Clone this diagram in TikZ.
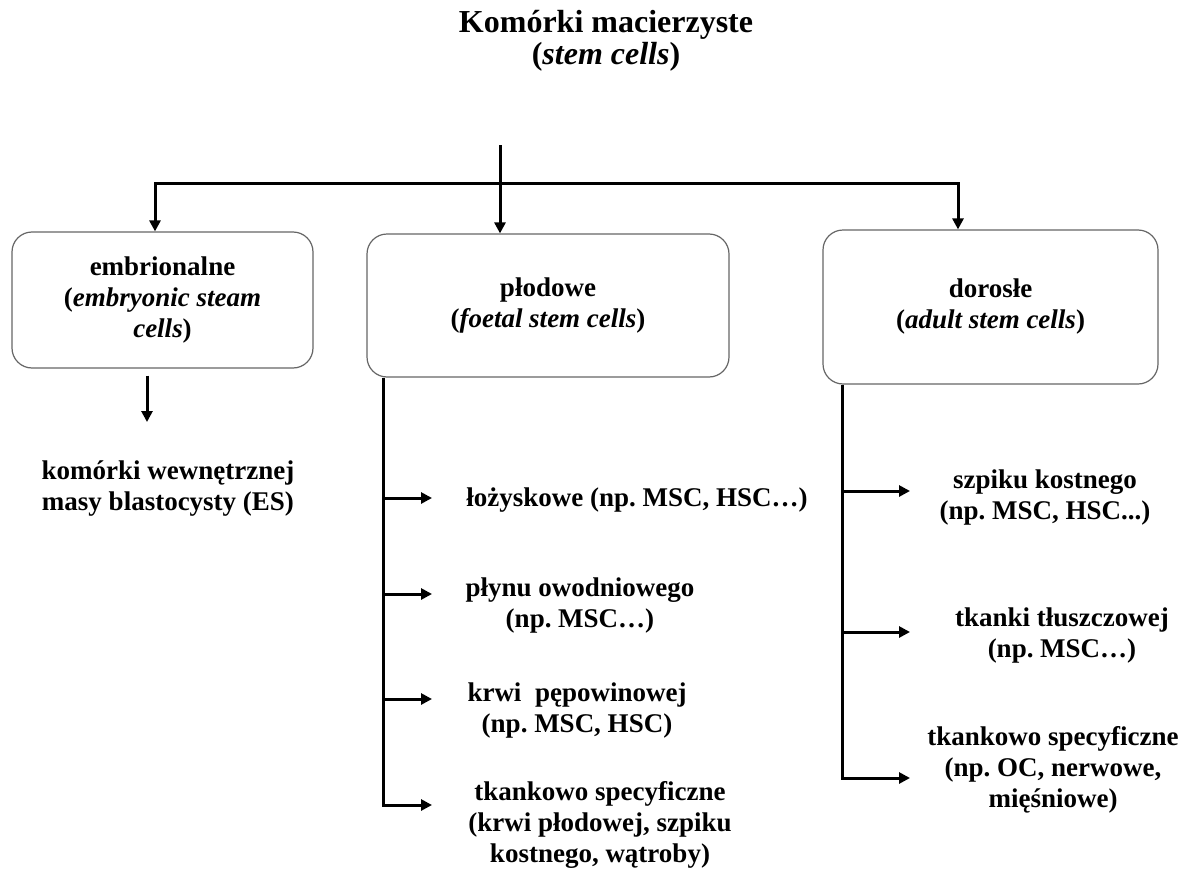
\documentclass[tikz,border=0pt]{standalone}
\usepackage{fontspec}
\setmainfont{Liberation Serif}
\usetikzlibrary{arrows.meta}

\newcommand{\titlefont}{\fontsize{32}{32}\selectfont\bfseries}
\newcommand{\cellfont}{\fontsize{27}{31}\selectfont\bfseries}

\tikzset{
  >={Triangle[length=11pt,width=11pt]},
  box/.style={draw=black!60, line width=1.2pt, rounded corners=20pt,
    align=center, inner sep=0pt, font=\cellfont},
  item/.style={align=center, inner sep=0pt, font=\cellfont},
  link/.style={line width=3pt, black},
  arr/.style={link, ->}
}

\begin{document}
\frenchspacing
\begin{tikzpicture}[x=1pt, y=-1pt]
  % Page
  \fill[white] (0,0) rectangle (1179,867);

  % Title
  \node[align=center, inner sep=0pt, font=\titlefont] (title) at (606,41)
    {Komórki macierzyste\\(\textit{stem cells})};

  % The three groups
  \node[box, minimum width=301pt, minimum height=136pt] (emb) at (162.5,300)
    {embrionalne\\(\textit{embryonic steam}\\\textit{cells})};
  \node[box, minimum width=362pt, minimum height=143pt] (fet) at (548,305.5)
    {płodowe\\(\textit{foetal stem cells})};
  \node[box, minimum width=335pt, minimum height=154pt] (adu) at (990.5,307)
    {dorosłe\\(\textit{adult stem cells})};

  % Draw the branching from the top
  \coordinate (top) at (500,145);
  \coordinate (jl) at (155,183);
  \coordinate (jr) at (958,183);
  \draw[link, <->] (jl |- emb.north) -- (jl) -- (jr) -- (jr |- adu.north);
  \draw[arr] (top) -- (top |- fet.north);

  % Embryonic cells
  \node[item] (es) at (168,489) {komórki wewnętrznej\\masy blastocysty (ES)};
  \coordinate (e1) at (147,422);
  \draw[arr] ([yshift=-7pt]emb.south -| e1) -- (e1);

  % Foetal cells
  \node[item] (p1) at (637,500) {łożyskowe (np. MSC, HSC…)};
  \node[item] (p2) at (580,606) {płynu owodniowego\\(np. MSC…)};
  \node[item] (p3) at (577,711) {krwi~ pępowinowej\\(np. MSC, HSC)};
  \node[item] (p4) at (600,825) {tkankowo specyficzne\\(krwi płodowej, szpiku\\kostnego, wątroby)};

  \path (fet.south west) ++(17,0) coordinate (f0);
  \coordinate (f1) at (432,498);
  \coordinate (f2) at (432,594);
  \coordinate (f3) at (432,699);
  \coordinate (f4) at (432,805);
  \draw[arr] (f0) -- (f0 |- f4) -- (f4);
  \draw[arr] (f0 |- f1) -- (f1);
  \draw[arr] (f0 |- f2) -- (f2);
  \draw[arr] (f0 |- f3) -- (f3);

  % Adult cells
  \node[item] (r1) at (1045,498) {szpiku kostnego\\(np. MSC, HSC...)};
  \node[item] (r2) at (1062,636) {tkanki tłuszczowej\\(np. MSC…)};
  \node[item] (r3) at (1053,770) {tkankowo specyficzne\\(np. OC, nerwowe,\\mięśniowe)};

  \path (adu.south west) ++(20,0) coordinate (a0);
  \coordinate (a1) at (910,491);
  \coordinate (a2) at (910,632);
  \coordinate (a3) at (910,778);
  \draw[arr] (a0) -- (a0 |- a3) -- (a3);
  \draw[arr] (a0 |- a1) -- (a1);
  \draw[arr] (a0 |- a2) -- (a2);
\end{tikzpicture}
\end{document}
